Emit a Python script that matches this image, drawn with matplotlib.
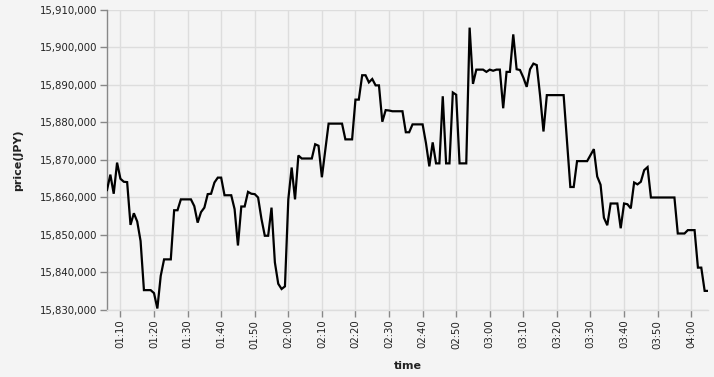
import matplotlib
matplotlib.use("Agg")
import matplotlib.pyplot as plt
import matplotlib.dates as mdates
import matplotlib.ticker as mticker
import pandas as pd

start_time = "2024-01-01 01:06"
# price in thousands above 15,000,000 JPY, one point per minute from 01:06 to 04:05
price_k = [
    862.0, 866.1, 861.0, 869.3,
    865.0, 864.2, 864.1, 852.7, 855.8, 853.6, 848.4, 835.3, 835.3, 835.3,
    834.5, 830.4, 839.1, 843.5, 843.5, 843.5, 856.6, 856.6, 859.5, 859.5,
    859.5, 859.5, 857.7, 853.3, 856.1, 857.3, 860.9, 861.0, 864.0, 865.3,
    865.3, 860.6, 860.6, 860.6, 856.9, 847.2, 857.6, 857.6, 861.5, 861.0,
    860.9, 860.0, 854.3, 849.8, 849.8, 857.3, 842.7, 837.0, 835.6, 836.3,
    859.5, 868.0, 859.5, 871.2, 870.4, 870.4, 870.4, 870.4, 874.2, 873.8,
    865.4, 872.5, 879.7, 879.7, 879.7, 879.7, 879.7, 875.5, 875.5, 875.5,
    886.1, 886.1, 892.6, 892.6, 890.7, 891.6, 889.9, 889.9, 880.2, 883.3,
    883.2, 883.0, 883.0, 883.0, 883.0, 877.4, 877.4, 879.5, 879.5, 879.5,
    879.5, 874.5, 868.3, 874.7, 869.1, 869.1, 887.0, 869.1, 869.1, 888.0,
    887.4, 869.1, 869.1, 869.1, 905.3, 890.3, 894.1, 894.1, 894.1, 893.5,
    894.1, 893.8, 894.1, 894.1, 883.8, 893.5, 893.5, 903.5, 894.2, 894.0,
    892.0, 889.5, 894.2, 895.7, 895.3, 887.1, 877.6, 887.3, 887.3, 887.3,
    887.3, 887.3, 887.3, 875.0, 862.8, 862.8, 869.7, 869.7, 869.7, 869.7,
    871.3, 872.9, 865.6, 863.4, 854.6, 852.6, 858.4, 858.4, 858.4, 851.8,
    858.4, 858.2, 857.1, 864.0, 863.5, 864.2, 867.3, 868.1, 860.0, 860.0,
    860.0, 860.0, 860.0, 860.0, 860.0, 860.0, 850.4, 850.4, 850.4, 851.3,
    851.3, 851.3, 841.3, 841.3, 835.1, 835.1,
]
prices = [15_000_000 + v * 1000 for v in price_k]
times = pd.date_range(start_time, periods=len(prices), freq="1min")

y_min, y_max = 15_830_000, 15_910_000

W, H = 714, 377
fig = plt.figure(figsize=(W / 100, H / 100), dpi=100)
fig.patch.set_facecolor("#f4f4f4")
ax = fig.add_axes([107 / W, (H - 310) / H, (708 - 107) / W, 300 / H])
ax.set_facecolor("#f4f4f4")

ax.plot(times, prices, color="black", lw=1.6, solid_joinstyle="miter", zorder=3)

ax.set_ylim(y_min, y_max)
ax.set_xlim(times[0], times[-1])
ax.yaxis.set_major_locator(mticker.MultipleLocator(10_000))
ax.yaxis.set_major_formatter(mticker.FuncFormatter(lambda v, p: f"{int(round(v)):,}"))
ax.xaxis.set_major_locator(mdates.MinuteLocator(byminute=range(0, 60, 10)))
ax.xaxis.set_major_formatter(mdates.DateFormatter("%H:%M"))

ax.grid(True, color="#dddddd", lw=1, zorder=0)
for s in ["top", "right"]:
    ax.spines[s].set_visible(False)
ax.spines["left"].set_color("#888888")
ax.spines["left"].set_linewidth(1)
ax.spines["bottom"].set_color("#dddddd")
ax.spines["bottom"].set_linewidth(1)

ax.tick_params(axis="both", colors="#888888", length=5, width=1, labelsize=7.3,
               labelcolor="#222222", pad=2)
for lab in ax.get_xticklabels():
    lab.set_rotation(90)

ax.set_ylabel("price(JPY)", fontsize=8, fontweight="bold", color="#222222", labelpad=12)
ax.set_xlabel("time", fontsize=8, fontweight="bold", color="#222222", labelpad=9)

fig.savefig("out.png", dpi=100, facecolor=fig.get_facecolor())
